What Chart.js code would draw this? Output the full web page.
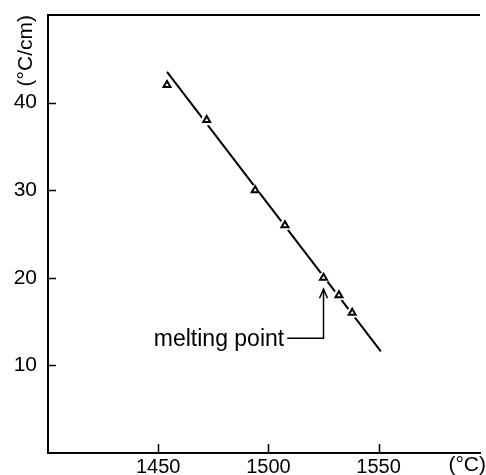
<!DOCTYPE html>
<html>
<head>
<meta charset="utf-8">
<script src="https://cdn.jsdelivr.net/npm/chart.js@4.4.0/dist/chart.umd.min.js"></script>
<style>
  html, body { margin: 0; padding: 0; background: #fff; }
  #wrap { width: 486px; height: 475px; position: relative; }
</style>
</head>
<body>
<div id="wrap"><canvas id="c" width="486" height="475"></canvas></div>
<script>
// ---- data ----
const temperatures = [1454, 1472, 1494, 1507.5, 1525, 1532, 1538];   // °C
const gradients    = [42, 38, 30, 26, 20, 18, 16];                    // °C/cm
const fitLineX = [1454, 1551];
const fitLineY = [43.5, 11.6];
const xTickValues = [1450, 1500, 1550];
const yTickValues = [10, 20, 30, 40];
const xRange = [1400, 1596];
const yRange = [0, 50];
const meltingPointT = 1525;
const meltingPointLabel = 'melting point';
const annotationTextStartX = 1448;
const annotationLineY = 13.1;
const annotationArrowTopY = 18.7;
const yUnit = '(°C/cm)';
const xUnit = '(°C)';

const pts = temperatures.map((t, i) => ({ x: t, y: gradients[i] }));
const fitPts = fitLineX.map((t, i) => ({ x: t, y: fitLineY[i] }));

const FONT = '"Liberation Sans", Arial, sans-serif';

const decorPlugin = {
  id: 'decor',
  afterDraw(chart) {
    const { ctx, chartArea: a, scales: { x, y } } = chart;
    ctx.save();
    ctx.strokeStyle = '#000';
    ctx.fillStyle = '#000';
    // top border
    ctx.lineWidth = 2;
    ctx.beginPath();
    ctx.moveTo(a.left - 1, a.top);
    ctx.lineTo(a.right, a.top);
    ctx.stroke();
    // inward tick marks
    ctx.lineWidth = 1.5;
    xTickValues.forEach(v => {
      const px = Math.round(x.getPixelForValue(v)) + 0.5;
      ctx.beginPath();
      ctx.moveTo(px, a.bottom);
      ctx.lineTo(px, a.bottom - 9);
      ctx.stroke();
    });
    yTickValues.forEach(v => {
      const py = Math.round(y.getPixelForValue(v)) + 0.5;
      ctx.beginPath();
      ctx.moveTo(a.left, py);
      ctx.lineTo(a.left + 8, py);
      ctx.stroke();
    });
    // melting point annotation
    const tx = x.getPixelForValue(annotationTextStartX);
    const ly = y.getPixelForValue(annotationLineY);
    const mx = x.getPixelForValue(meltingPointT);
    const ay = y.getPixelForValue(annotationArrowTopY);
    ctx.font = '23px ' + FONT;
    ctx.textAlign = 'left';
    ctx.textBaseline = 'alphabetic';
    ctx.fillText(meltingPointLabel, tx, ly + 8);
    const tw = ctx.measureText(meltingPointLabel).width;
    ctx.lineWidth = 1.5;
    ctx.beginPath();
    ctx.moveTo(tx + tw + 3, ly);
    ctx.lineTo(mx, ly);
    ctx.lineTo(mx, ay);
    ctx.stroke();
    ctx.beginPath();
    ctx.moveTo(mx - 4, ay + 9);
    ctx.lineTo(mx, ay);
    ctx.lineTo(mx + 4, ay + 9);
    ctx.stroke();
    // unit labels
    ctx.font = '21px ' + FONT;
    ctx.save();
    ctx.translate(32, 15);
    ctx.rotate(-Math.PI / 2);
    ctx.textAlign = 'right';
    ctx.textBaseline = 'alphabetic';
    ctx.fillText(yUnit, 0, 0);
    ctx.restore();
    ctx.textAlign = 'right';
    ctx.textBaseline = 'alphabetic';
    ctx.fillText(xUnit, 486, 471);
    ctx.restore();
  }
};

new Chart(document.getElementById('c'), {
  type: 'scatter',
  data: {
    datasets: [
      {
        type: 'line',
        data: fitPts,
        borderColor: '#000',
        borderWidth: 2,
        pointRadius: 0,
        fill: false,
        tension: 0,
        order: 3
      },
      {
        data: pts,
        pointStyle: 'circle',
        pointRadius: 5.5,
        backgroundColor: '#fff',
        borderColor: '#fff',
        borderWidth: 0,
        order: 2
      },
      {
        data: pts,
        pointStyle: 'triangle',
        pointRadius: 4,
        backgroundColor: '#fff',
        borderColor: '#000',
        borderWidth: 2,
        order: 1
      }
    ]
  },
  options: {
    responsive: false,
    animation: false,
    events: [],
    layout: { padding: { top: 15, right: 0, left: 0, bottom: 0 } },
    plugins: { legend: { display: false }, tooltip: { enabled: false } },
    scales: {
      x: {
        type: 'linear',
        min: xRange[0],
        max: xRange[1],
        afterFit(s) { s.height = 22; s.paddingLeft = 0; s.paddingRight = 0; },
        afterBuildTicks(s) { s.ticks = xTickValues.map(v => ({ value: v })); },
        grid: { display: false, drawTicks: false },
        border: { display: true, color: '#000', width: 2 },
        ticks: { color: '#000', font: { family: FONT, size: 20 }, padding: 2, maxRotation: 0, autoSkip: false,
                 callback: v => String(v) }
      },
      y: {
        type: 'linear',
        min: yRange[0],
        max: yRange[1],
        afterFit(s) { s.width = 48; s.paddingTop = 0; s.paddingBottom = 0; },
        afterBuildTicks(s) { s.ticks = yTickValues.map(v => ({ value: v })); },
        grid: { display: false, drawTicks: false },
        border: { display: true, color: '#000', width: 2 },
        ticks: { color: '#000', font: { family: FONT, size: 21 }, padding: 11, autoSkip: false,
                 callback: v => String(v) }
      }
    }
  },
  plugins: [decorPlugin]
});
</script>
</body>
</html>
